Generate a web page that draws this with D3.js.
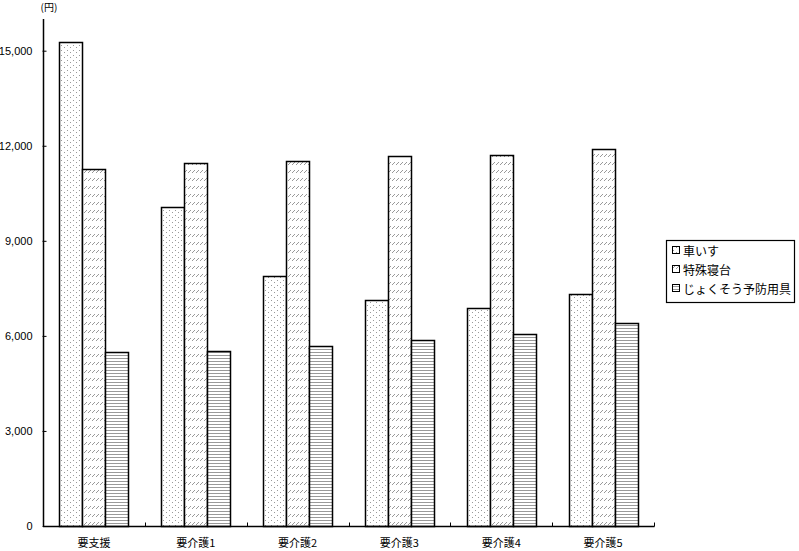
<!DOCTYPE html>
<html><head><meta charset="utf-8">
<script src="https://cdn.jsdelivr.net/npm/d3@7"></script>
<style>body{margin:0;background:#fff}svg{display:block}</style>
</head><body>
<svg id="c" width="799" height="551"></svg>
<script>
const categories = ["要支援","要介護1","要介護2","要介護3","要介護4","要介護5"];
const seriesNames = ["車いす","特殊寝台","じょくそう予防用具"];
const wheelchair = [15260, 10070, 7890, 7140, 6890, 7330];
const specialBed = [11270, 11460, 11520, 11680, 11720, 11910];
const pressureSore = [5500, 5530, 5690, 5880, 6070, 6410];
const yTicks = [0, 3000, 6000, 9000, 12000, 15000];
const yMax = 16000;
const unitLabel = "(円)";

const series = [wheelchair, specialBed, pressureSore];
const svg = d3.select("#c");
const defs = svg.append("defs");

// dot pattern
const p1 = defs.append("pattern").attr("id","p0").attr("patternUnits","userSpaceOnUse").attr("width",6).attr("height",5);
p1.append("rect").attr("width",6).attr("height",5).attr("fill","#fff");
p1.append("rect").attr("x",1).attr("y",0).attr("width",1).attr("height",1).attr("fill","#999");
p1.append("rect").attr("x",4).attr("y",2).attr("width",1).attr("height",1).attr("fill","#999");
// diagonal hatch rows
const p2 = defs.append("pattern").attr("id","p1").attr("patternUnits","userSpaceOnUse").attr("width",4).attr("height",8);
p2.append("rect").attr("width",4).attr("height",8).attr("fill","#fff");
[[0,4],[1,3],[2,2]].forEach(([x,y])=>p2.append("rect").attr("x",x).attr("y",y).attr("width",1).attr("height",1).attr("fill","#999"));
// horizontal lines
const p3 = defs.append("pattern").attr("id","p2").attr("patternUnits","userSpaceOnUse").attr("width",4).attr("height",3);
p3.append("rect").attr("width",4).attr("height",3).attr("fill","#fff");
p3.append("rect").attr("x",0).attr("y",1).attr("width",4).attr("height",1).attr("fill","#999");

const x0 = 43, x1 = 654, yBase = 526;
const y = d3.scaleLinear().domain([0, yMax]).range([yBase, 19]);
const xb = d3.scaleBand().domain(categories).range([x0, x1]).paddingInner(0.323).paddingOuter(0.1615);
const xs = d3.scaleBand().domain(d3.range(series.length)).range([0, xb.bandwidth()]);

const g = svg.append("g");
categories.forEach((c, i) => {
  series.forEach((s, j) => {
    g.append("rect")
      .attr("x", Math.round(xb(c) + xs(j)) + 0.5)
      .attr("y", Math.round(y(s[i])) + 0.5)
      .attr("width", Math.round(xs.bandwidth()))
      .attr("height", yBase - Math.round(y(s[i])))
      .attr("fill", `url(#p${j})`)
      .attr("stroke", "#000").attr("stroke-width", 1.5);
  });
});

// Y axis
const yAxis = d3.axisLeft(y).tickValues(yTicks).tickSize(-3).tickPadding(10).tickFormat(d3.format(","));
const ya = svg.append("g").attr("transform", `translate(${x0 + 0.5},0)`).call(yAxis);
ya.select(".domain").attr("d", `M0,${y(yMax)}V${yBase}`).attr("stroke","#000").attr("stroke-width",1.5);
ya.selectAll(".tick line").attr("x1",-1).attr("x2",3).attr("stroke","#000");
ya.selectAll("text").attr("font-family","Liberation Sans, Arial, sans-serif").attr("font-size",11).attr("fill","#000").attr("x",-11);

// X axis
const xa = svg.append("g").attr("transform", `translate(0,${yBase + 0.5})`);
xa.append("line").attr("x1", x0).attr("x2", x1 + 0.5).attr("stroke","#000").attr("stroke-width",1.5);
const bounds = categories.map((c, i) => x0 + (x1 - x0) * (i + 1) / categories.length);
xa.selectAll(".xt").data(bounds).join("line")
  .attr("x1", d => Math.round(d) + 0.5).attr("x2", d => Math.round(d) + 0.5)
  .attr("y1", 0).attr("y2", -4).attr("stroke","#000");
xa.selectAll(".xl").data(categories).join("text")
  .attr("x", d => xb(d) + xb.bandwidth() / 2)
  .attr("y", 20)
  .attr("text-anchor","middle")
  .attr("font-family","Noto Sans CJK JP, sans-serif").attr("font-size",11).attr("fill","#000")
  .text(d => d);

svg.append("text").attr("x", 49).attr("y", 11).attr("text-anchor","middle")
  .attr("font-family","Noto Sans CJK JP, sans-serif").attr("font-size",10).text(unitLabel);

// Legend
const lg = svg.append("g");
lg.append("rect").attr("x",666.5).attr("y",240.5).attr("width",128).attr("height",62).attr("fill","#fff").attr("stroke","#000").attr("stroke-width",1.2);
const rowY = [251, 270, 289];
seriesNames.forEach((n, j) => {
  lg.append("rect").attr("x",672.5).attr("y",rowY[j]-4.5).attr("width",7).attr("height",7)
    .attr("fill",`url(#p${j})`).attr("stroke","#000");
  lg.append("text").attr("x",683).attr("y",rowY[j]+4.5)
    .attr("font-family","Noto Sans CJK JP, sans-serif").attr("font-size",12).attr("fill","#000").text(n);
});
</script>
</body></html>
